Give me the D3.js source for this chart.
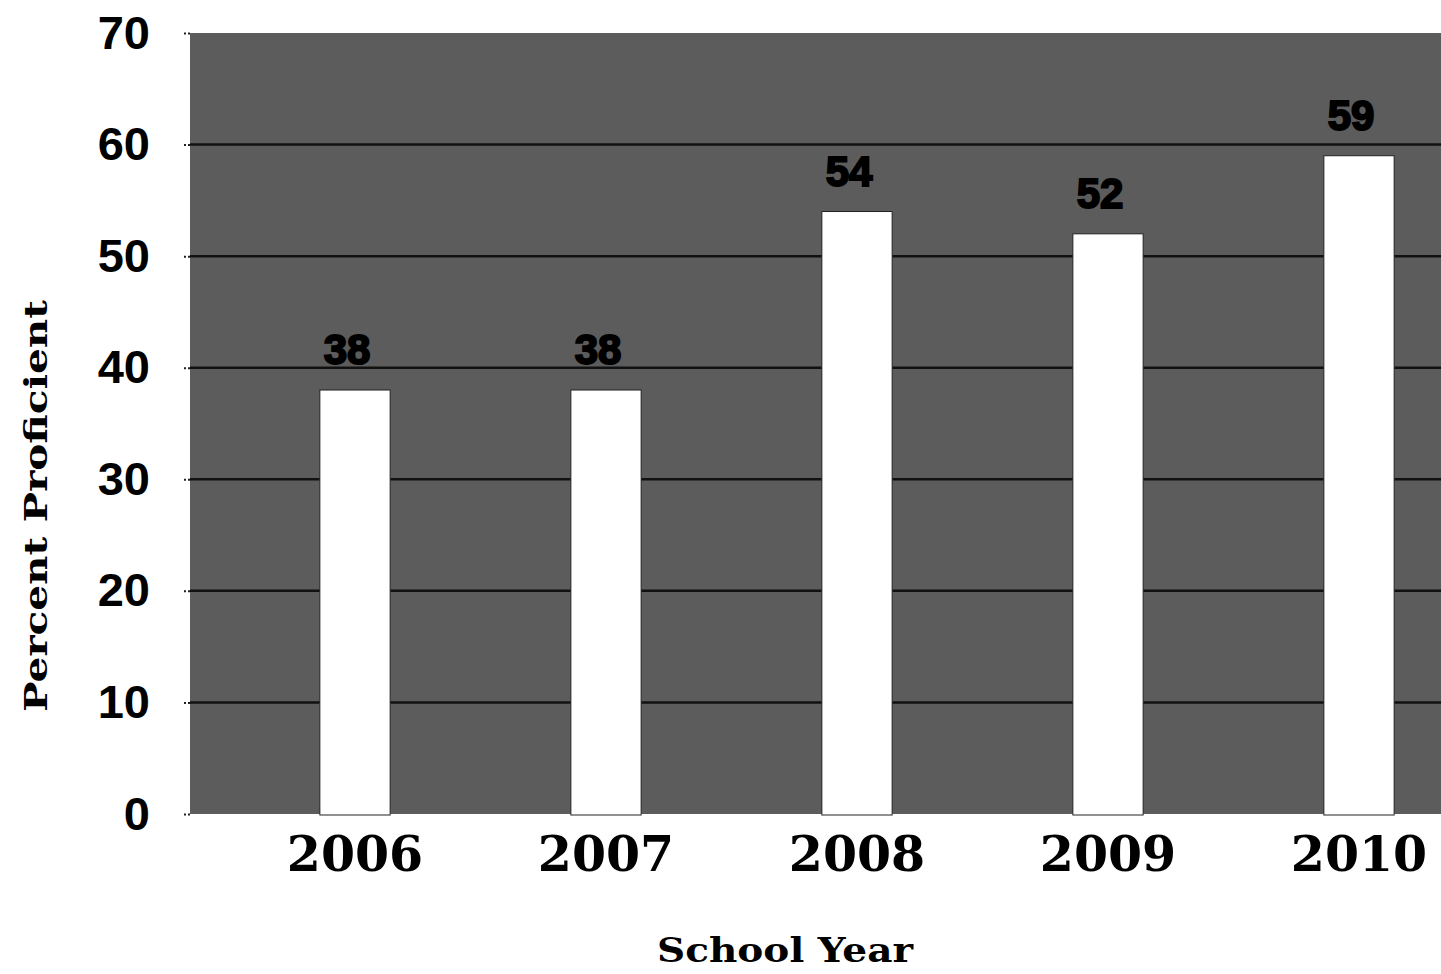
<!DOCTYPE html>
<html>
<head>
<meta charset="utf-8">
<script src="https://cdn.jsdelivr.net/npm/d3@7"></script>
<style>
  body { margin: 0; background: #fff; }
  svg { display: block; }
</style>
</head>
<body>
<svg id="chart" width="1441" height="974"></svg>
<script>
// chart values
var years = ["2006", "2007", "2008", "2009", "2010"];
var proficient = [38, 38, 54, 52, 59];
var yTicks = [0, 10, 20, 30, 40, 50, 60, 70];

var svg = d3.select("#chart"),
    width = +svg.attr("width"),
    height = +svg.attr("height");

var plotLeft = 190, plotTop = 33, plotBottom = 814;

var x = d3.scaleBand()
    .domain(years)
    .range([229.5, 1484.5])
    .paddingInner(0.72)
    .paddingOuter(0.36);

var y = d3.scaleLinear()
    .domain([0, 70])
    .range([plotBottom, plotTop]);

// plot background
svg.append("rect")
    .attr("x", plotLeft)
    .attr("y", plotTop)
    .attr("width", width - plotLeft)
    .attr("height", plotBottom - plotTop)
    .attr("fill", "#5c5c5c");

// gridlines
svg.append("g")
    .attr("class", "grid")
    .selectAll("line")
    .data(yTicks.filter(function(t) { return t > 0 && t < 70; }))
    .enter().append("line")
        .attr("x1", plotLeft)
        .attr("x2", width)
        .attr("y1", function(d) { return y(d); })
        .attr("y2", function(d) { return y(d); })
        .attr("stroke", "#111")
        .attr("stroke-width", 2.5);

// y axis: small dotted ticks and bold labels
var yAxis = d3.axisLeft(y)
    .tickValues(yTicks)
    .tickSize(8)
    .tickPadding(32);

var yg = svg.append("g")
    .attr("transform", "translate(" + plotLeft + ",0)")
    .call(yAxis);
yg.select(".domain").remove();
yg.selectAll(".tick line")
    .attr("stroke", "#222")
    .attr("stroke-width", 2)
    .attr("stroke-dasharray", "2,2");
yg.selectAll(".tick text")
    .attr("fill", "#000")
    .style("font-family", "'Liberation Sans', Arial, sans-serif")
    .style("font-weight", "bold")
    .style("font-size", "47px");

// bars
svg.append("g")
    .attr("class", "bars")
    .selectAll("rect")
    .data(proficient)
    .enter().append("rect")
        .attr("x", function(d, i) { return x(years[i]); })
        .attr("y", function(d) { return y(d); })
        .attr("width", x.bandwidth())
        .attr("height", function(d) { return y(0) - y(d) + 1; })
        .attr("fill", "#fff")
        .attr("stroke", "#222")
        .attr("stroke-width", 1);

// value labels
svg.append("g")
    .attr("class", "labels")
    .selectAll("text")
    .data(proficient)
    .enter().append("text")
        .attr("x", function(d, i) { return x(years[i]) + x.bandwidth() / 2 - 8; })
        .attr("y", function(d) { return y(d) - 26; })
        .attr("text-anchor", "middle")
        .attr("fill", "#000")
        .attr("stroke", "#000")
        .attr("stroke-width", 2)
        .style("font-family", "'Liberation Sans', Arial, sans-serif")
        .style("font-weight", "bold")
        .style("font-size", "42px")
        .text(function(d) { return d; });

// x axis labels
var xAxis = d3.axisBottom(x).tickSize(0).tickPadding(0);
var xg = svg.append("g")
    .attr("transform", "translate(0," + plotBottom + ")")
    .call(xAxis);
xg.select(".domain").remove();
xg.selectAll(".tick text")
    .attr("y", 57)
    .attr("dy", 0)
    .attr("fill", "#000")
    .style("font-family", "'DejaVu Serif', serif")
    .style("font-weight", "bold")
    .style("font-size", "49px");

// axis titles
svg.append("text")
    .attr("x", 785)
    .attr("y", 962)
    .attr("text-anchor", "middle")
    .attr("textLength", 256)
    .attr("lengthAdjust", "spacingAndGlyphs")
    .style("font-family", "'DejaVu Serif', serif")
    .style("font-weight", "bold")
    .style("font-size", "33px")
    .text("School Year");

svg.append("text")
    .attr("transform", "translate(47,506) rotate(-90)")
    .attr("text-anchor", "middle")
    .attr("textLength", 412)
    .attr("lengthAdjust", "spacingAndGlyphs")
    .style("font-family", "'DejaVu Serif', serif")
    .style("font-weight", "bold")
    .style("font-size", "31px")
    .text("Percent Proficient");
</script>
</body>
</html>
